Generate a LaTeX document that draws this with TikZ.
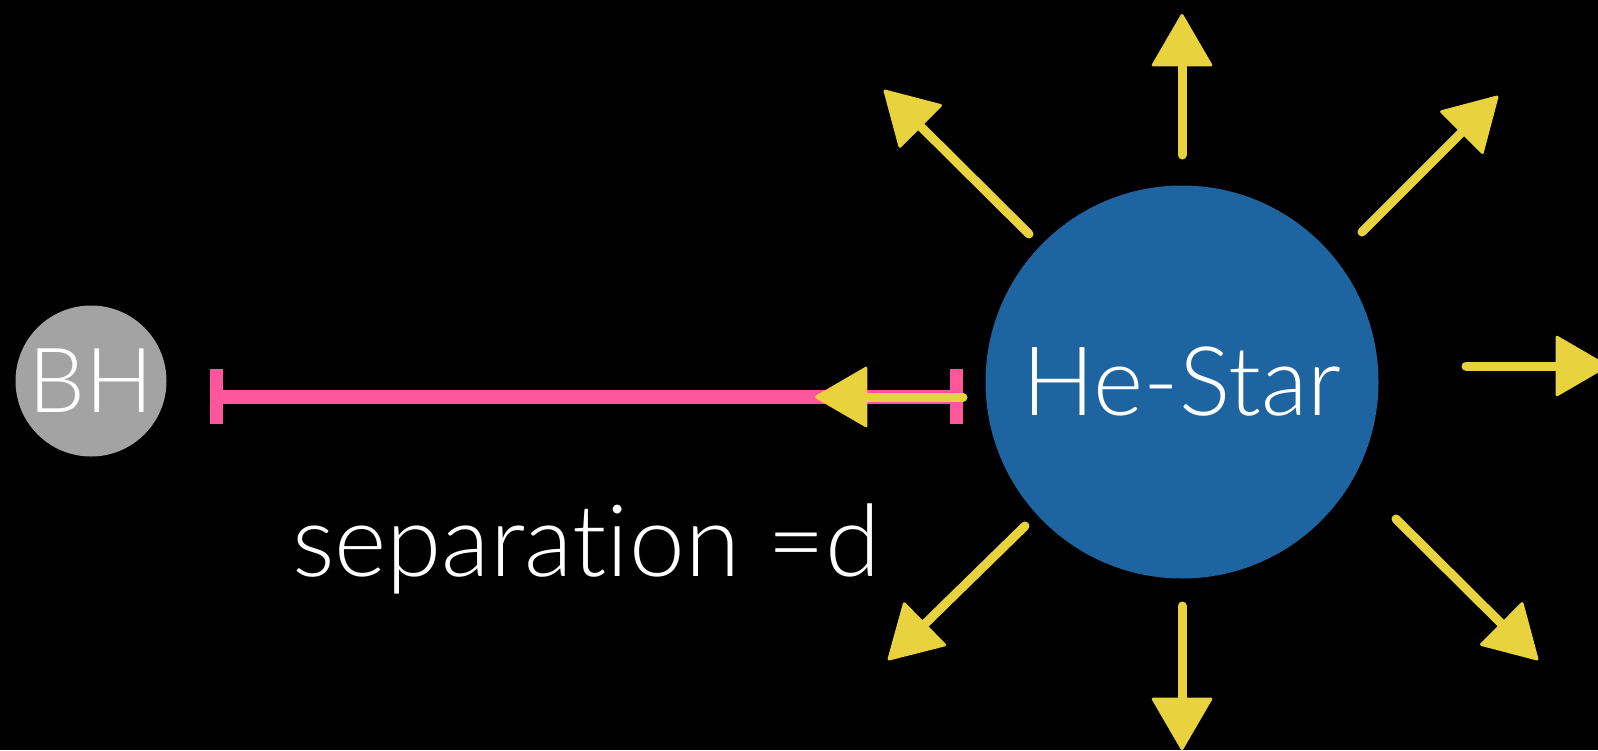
\documentclass[tikz,border=0pt]{standalone}
\usepackage{fontspec}
\newfontfamily\lightfont{Lato Light}[Ligatures={NoCommon,NoRequired,NoContextual}]
\usetikzlibrary{arrows.meta}
\definecolor{bhgray}{HTML}{A3A3A3}
\definecolor{starblue}{HTML}{1E64A0}
\definecolor{sepink}{HTML}{FF569C}
\definecolor{windyellow}{HTML}{E8D33F}
\tikzset{
  body/.style={circle, inner sep=0pt, text=white, font=\lightfont\fontsize{96}{96}\selectfont},
  barmark/.style={rectangle, fill=sepink, minimum width=13pt, minimum height=55pt, inner sep=0pt},
  sepline/.style={draw=sepink, line width=14pt},
  wind/.style={draw=windyellow, line width=9pt, line cap=round,
    -{Triangle[length=54pt, width=62pt, line width=3pt, round, fill=windyellow, color=windyellow]}},
  label/.style={text=white, font=\lightfont\fontsize{100}{100}\selectfont, inner sep=0pt, anchor=base}
}
\begin{document}
\begin{tikzpicture}[x=1pt,y=-1pt]
\fill[black] (0,0) rectangle (1598,750);
\useasboundingbox (0,0) rectangle (1598,750);
\begin{scope}
\clip (0,0) rectangle (1598,750);
% bodies
\node[body, fill=bhgray, minimum size=151pt, font=\lightfont\fontsize{90}{90}\selectfont] (bh) at (91,381) {BH};
\node[body, fill=starblue, minimum size=393pt] (star) at (1182,382) {He-Star};
% separation
\node[barmark] (lbar) at (216.5,396.5) {};
\node[barmark] (rbar) at (956.5,396.5) {};
\draw[sepline] (lbar.center) -- (rbar.center);
\node[label] (sep) at (586,576) {separat{}ion =d};
% wind arrow coordinates
\coordinate (t0) at (963,397);   \coordinate (h0) at (815,397);
\coordinate (t1) at (1182,155);  \coordinate (h1) at (1182,14);
\coordinate (t2) at (1029,234);  \coordinate (h2) at (884,90);
\coordinate (t3) at (1362,232);  \coordinate (h3) at (1498,96);
\coordinate (t4) at (1466,366);  \coordinate (h4) at (1608,366);
\coordinate (t5) at (1025,526);  \coordinate (h5) at (888,660);
\coordinate (t6) at (1182,606);  \coordinate (h6) at (1182,750);
\coordinate (t7) at (1396,519);  \coordinate (h7) at (1538,660);
\foreach \i in {0,...,7} {\draw[wind] (t\i) -- (h\i);}
\end{scope}
\end{tikzpicture}
\end{document}
